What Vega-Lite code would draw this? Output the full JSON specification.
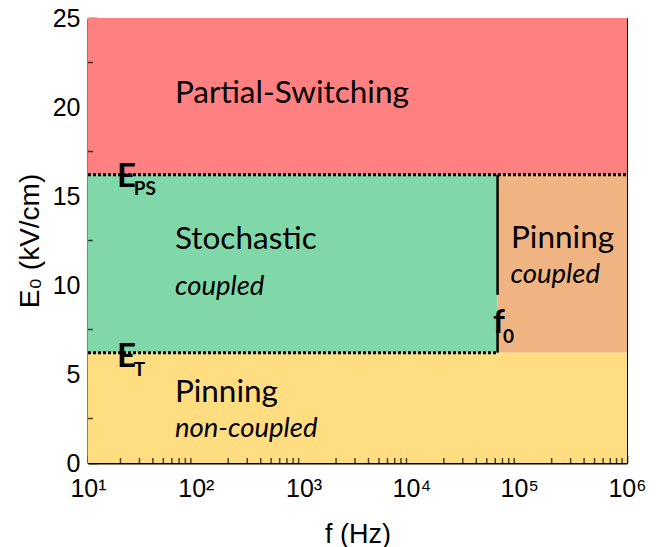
{
  "$schema": "https://vega.github.io/schema/vega-lite/v6.json",
  "width": 539,
  "height": 445,
  "autosize": {"type": "none"},
  "padding": {"left": 88, "top": 18, "right": 33, "bottom": 84},
  "background": "white",
  "config": {
    "view": {"stroke": null},
    "axis": {"grid": false, "zindex": 1, "domainColor": "black", "tickColor": "black", "labelColor": "black", "titleColor": "black"}
  },
  "datasets": {
    "regions": [
      {"region": "Partial-Switching", "f1": 10, "f2": 1000000, "e1": 16.2, "e2": 25},
      {"region": "Stochastic coupled", "f1": 10, "f2": 63000, "e1": 6.2, "e2": 16.2},
      {"region": "Pinning coupled", "f1": 63000, "f2": 1000000, "e1": 6.2, "e2": 16.2},
      {"region": "Pinning non-coupled", "f1": 10, "f2": 1000000, "e1": 0, "e2": 6.2}
    ],
    "thresholds": [
      {"name": "E_PS", "f1": 10, "f2": 1000000, "e": 16.2},
      {"name": "E_T", "f1": 10, "f2": 63000, "e": 6.2}
    ],
    "f0line": [
      {"f": 63000, "e1": 9.45, "e2": 16.2},
      {"f": 63000, "e1": 6.2, "e2": 7.45}
    ],
    "minorF": [
      {"f": 20}, {"f": 30}, {"f": 40}, {"f": 50}, {"f": 60}, {"f": 70}, {"f": 80}, {"f": 90},
      {"f": 200}, {"f": 300}, {"f": 400}, {"f": 500}, {"f": 600}, {"f": 700}, {"f": 800}, {"f": 900},
      {"f": 2000}, {"f": 3000}, {"f": 4000}, {"f": 5000}, {"f": 6000}, {"f": 7000}, {"f": 8000}, {"f": 9000},
      {"f": 20000}, {"f": 30000}, {"f": 40000}, {"f": 50000}, {"f": 60000}, {"f": 70000}, {"f": 80000}, {"f": 90000},
      {"f": 200000}, {"f": 300000}, {"f": 400000}, {"f": 500000}, {"f": 600000}, {"f": 700000}, {"f": 800000}, {"f": 900000}
    ],
    "minorE": [
      {"e": 2.5}, {"e": 7.5}, {"e": 12.5}, {"e": 17.5}, {"e": 22.5}
    ],
    "names": [
      {"label": "Partial-Switching", "f": 64, "e": 20.22},
      {"label": "Stochastic", "f": 64, "e": 12.0},
      {"label": "Pinning", "f": 64, "e": 3.44},
      {"label": "Pinning", "f": 84000, "e": 12.08}
    ],
    "kinds": [
      {"label": "coupled", "f": 64, "e": 9.44},
      {"label": "non-coupled", "f": 64, "e": 1.48},
      {"label": "coupled", "f": 83000, "e": 10.1}
    ],
    "symbols": [
      {"label": "E", "f": 18.6, "e": 15.5},
      {"label": "E", "f": 18.6, "e": 5.39},
      {"label": "f", "f": 57000, "e": 7.3}
    ],
    "subscripts": [
      {"label": "PS", "f": 26.5, "e": 15.06},
      {"label": "T", "f": 26.5, "e": 4.89},
      {"label": "0", "f": 70800, "e": 6.74}
    ]
  },
  "resolve": {"axis": {"x": "independent", "y": "independent"}},
  "layer": [
    {
      "data": {"name": "regions"},
      "mark": {"type": "rect", "stroke": null},
      "encoding": {
        "x": {
          "field": "f1", "type": "quantitative",
          "scale": {"type": "log", "domain": [10, 1000000], "nice": false},
          "axis": {
            "orient": "bottom", "title": "f (Hz)", "values": [10, 100, 1000, 10000, 100000, 1000000],
            "labelExpr": "'10' + ['⁰','¹','²','³','⁴','⁵','⁶'][round(log(datum.value) / LN10)]",
            "tickSize": -8, "tickWidth": 1.5, "labelPadding": 21,
            "labelFont": "Liberation Sans", "labelFontSize": 25, "labelFlush": false,
            "titleFont": "Liberation Sans", "titleFontSize": 27, "titleFontWeight": "normal", "titlePadding": 20,
            "domainWidth": 2
          }
        },
        "x2": {"field": "f2"},
        "y": {
          "field": "e1", "type": "quantitative",
          "scale": {"domain": [0, 25], "nice": false},
          "axis": {
            "orient": "left", "title": "E₀ (kV/cm)", "values": [0, 5, 10, 15, 20, 25],
            "tickSize": -9, "tickWidth": 1.5, "labelPadding": 17,
            "labelFont": "Liberation Sans", "labelFontSize": 25, "labelFlush": false,
            "titleFont": "Liberation Sans", "titleFontSize": 28, "titleFontWeight": "normal", "titlePadding": 8,
            "domainWidth": 2
          }
        },
        "y2": {"field": "e2"},
        "color": {
          "field": "region", "type": "nominal", "legend": null,
          "scale": {
            "domain": ["Partial-Switching", "Stochastic coupled", "Pinning coupled", "Pinning non-coupled"],
            "range": ["#FF8080", "#80D8A8", "#F0B482", "#FFDD80"]
          }
        }
      }
    },
    {
      "data": {"name": "minorF"},
      "mark": {"type": "tick", "orient": "vertical", "color": "black", "size": 5, "thickness": 1.5, "yOffset": -2.5},
      "encoding": {
        "x": {"field": "f", "type": "quantitative", "axis": null},
        "y": {"datum": 0, "type": "quantitative", "axis": null}
      }
    },
    {
      "data": {"name": "minorE"},
      "mark": {"type": "tick", "orient": "horizontal", "color": "black", "size": 5, "thickness": 1.5, "xOffset": 2.5},
      "encoding": {
        "x": {"datum": 10, "type": "quantitative", "axis": null},
        "y": {"field": "e", "type": "quantitative", "axis": null}
      }
    },
    {
      "data": {"name": "thresholds"},
      "mark": {"type": "rule", "color": "black", "strokeWidth": 3, "strokeDash": [3, 2]},
      "encoding": {
        "x": {"field": "f1", "type": "quantitative", "axis": null},
        "x2": {"field": "f2"},
        "y": {"field": "e", "type": "quantitative", "axis": null}
      }
    },
    {
      "data": {"name": "f0line"},
      "mark": {"type": "rule", "color": "black", "strokeWidth": 2.5},
      "encoding": {
        "x": {"field": "f", "type": "quantitative", "axis": null},
        "y": {"field": "e1", "type": "quantitative", "axis": null},
        "y2": {"field": "e2"}
      }
    },
    {
      "data": {"name": "names"},
      "mark": {"type": "text", "font": "Lato", "fontSize": 31.5, "align": "left", "baseline": "alphabetic", "color": "black"},
      "encoding": {
        "x": {"field": "f", "type": "quantitative", "axis": {"orient": "top", "title": null, "labels": false, "ticks": false, "domainWidth": 1}},
        "y": {"field": "e", "type": "quantitative", "axis": {"orient": "right", "title": null, "labels": false, "ticks": false, "domainWidth": 1}},
        "text": {"field": "label"}
      }
    },
    {
      "data": {"name": "kinds"},
      "mark": {"type": "text", "font": "Lato", "fontSize": 27.5, "fontStyle": "italic", "align": "left", "baseline": "alphabetic", "color": "black"},
      "encoding": {
        "x": {"field": "f", "type": "quantitative", "axis": null},
        "y": {"field": "e", "type": "quantitative", "axis": null},
        "text": {"field": "label"}
      }
    },
    {
      "data": {"name": "symbols"},
      "mark": {"type": "text", "font": "Lato", "fontSize": 33, "fontWeight": "bold", "align": "left", "baseline": "alphabetic", "color": "black"},
      "encoding": {
        "x": {"field": "f", "type": "quantitative", "axis": null},
        "y": {"field": "e", "type": "quantitative", "axis": null},
        "text": {"field": "label"}
      }
    },
    {
      "data": {"name": "subscripts"},
      "mark": {"type": "text", "font": "Lato", "fontSize": 19, "fontWeight": "bold", "align": "left", "baseline": "alphabetic", "color": "black"},
      "encoding": {
        "x": {"field": "f", "type": "quantitative", "axis": null},
        "y": {"field": "e", "type": "quantitative", "axis": null},
        "text": {"field": "label"}
      }
    }
  ]
}
